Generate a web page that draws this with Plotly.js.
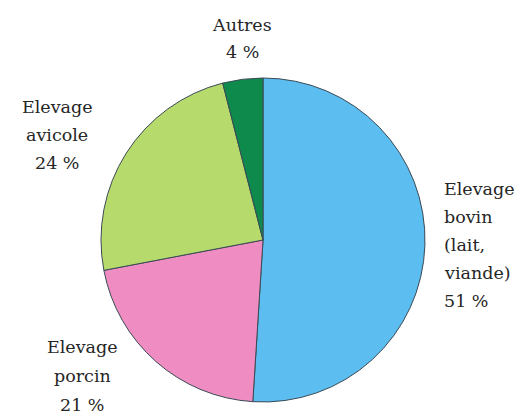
<!DOCTYPE html>
<html>
<head>
<meta charset="utf-8">
<script src="https://cdn.plot.ly/plotly-3.0.1.min.js"></script>
<style>html,body{margin:0;padding:0;background:#fff;}#chart{width:528px;height:415px;}</style>
</head>
<body>
<div id="chart"></div>
<script>
// Data
var categories = ["Elevage bovin (lait, viande)", "Elevage porcin", "Elevage avicole", "Autres"];
var values = [51, 21, 24, 4];
var nameLines = [
  ["Elevage", "bovin", "(lait,", "viande)"],
  ["Elevage", "porcin"],
  ["Elevage", "avicole"],
  ["Autres"]
];
var colors = ["#5cbdf0", "#ef8dc2", "#b6da6c", "#0d8a4c"];

// label placement (layout only): pixel position of first line, alignment, line step
var W = 528, H = 415;
var labelPos = [
  {x: 442, y: 189, anchor: "left", step: 28},
  {x: 82,  y: 347, anchor: "center", step: 29},
  {x: 57,  y: 107, anchor: "center", step: 28},
  {x: 242, y: 25,  anchor: "center", step: 27}
];

var annotations = [];
categories.forEach(function(c, i){
  var lines = nameLines[i].concat([values[i] + " %"]);
  lines.forEach(function(t, k){
    annotations.push({
      text: t,
      x: labelPos[i].x / W,
      y: 1 - (labelPos[i].y + k * labelPos[i].step) / H,
      xref: "paper", yref: "paper",
      xanchor: labelPos[i].anchor, yanchor: "middle",
      showarrow: false,
      font: {family: "DejaVu Serif, Liberation Serif, serif", size: 17.5, color: "#262626"}
    });
  });
});

var trace = {
  type: "pie",
  labels: categories,
  values: values,
  sort: false,
  direction: "clockwise",
  rotation: 0,
  textinfo: "none",
  hoverinfo: "none",
  marker: {colors: colors, line: {color: "#3a4a55", width: 1}},
  domain: {x: [101 / W, 425 / W], y: [1 - 402 / H, 1 - 78 / H]}
};

var layout = {
  width: W, height: H,
  margin: {l: 0, r: 0, t: 0, b: 0},
  showlegend: false,
  paper_bgcolor: "#ffffff",
  annotations: annotations
};

Plotly.newPlot("chart", [trace], layout, {staticPlot: true, displayModeBar: false});
</script>
</body>
</html>
